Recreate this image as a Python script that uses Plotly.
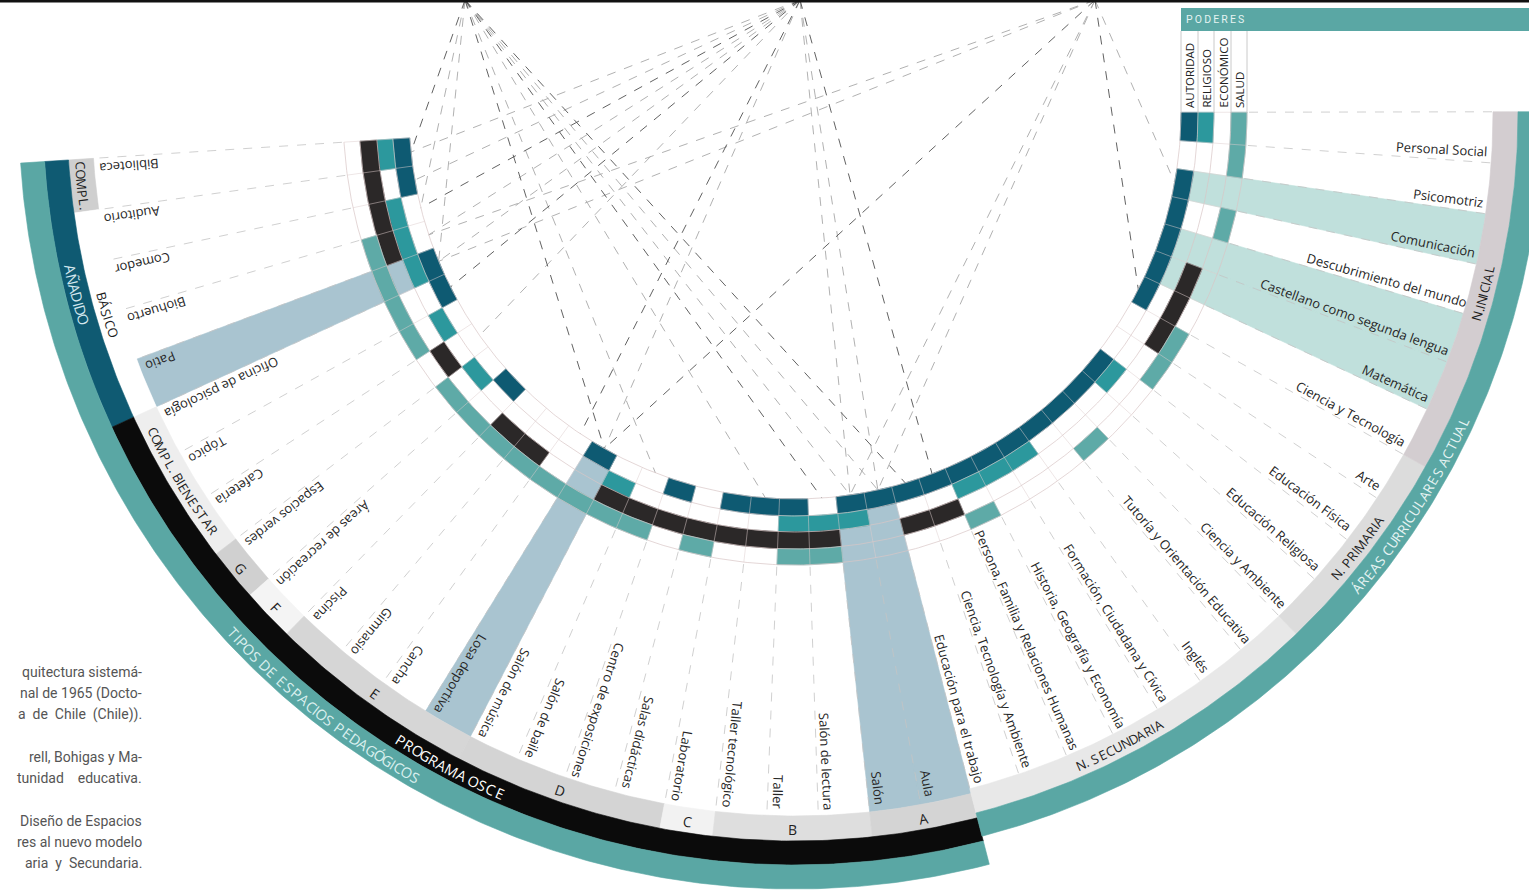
import math
import plotly.graph_objects as go

# ------------------------------------------------------------------ data
ESPACIOS = [
    "Biblioteca", "Auditorio", "Comedor", "Biohuerto", "Patio",
    "Oficina de psicología", "Tópico", "Cafetería", "Espacios verdes",
    "Áreas de recreación", "Piscina", "Gimnasio", "Cancha", "Losa deportiva",
    "Salón de música", "Salón de baile", "Centro de exposiciones",
    "Salas didácticas", "Laboratorio", "Taller tecnológico", "Taller",
    "Salón de lectura", "Salón", "Aula",
]
AREAS = [
    "Educación para el trabajo", "Ciencia, Tecnología y Ambiente",
    "Persona, Familia y Relaciones Humanas", "Historia, Geografía y Economía",
    "Formación, Ciudadana y Cívica", "Inglés", "Tutoría y Orientación Educativa",
    "Ciencia y Ambiente", "Educación Religiosa", "Educación Física", "Arte",
    "Ciencia y Tecnología", "Matemática", "Castellano como segunda lengua",
    "Descubrimiento del mundo", "Comunicación", "Psicomotriz", "Personal Social",
]
PODERES = ["AUTORIDAD", "RELIGIOSO", "ECONÓMICO", "SALUD"]

# presence of each power (1 = filled cell) for every space / every curricular area
AUTORIDAD_ESP = [1,1,0,0,1,1,0,0,0,1,0,0,0,1,0,0,1,0,1,1,1,0,1,1]
RELIGIOSO_ESP = [1,0,1,1,1,0,1,0,1,0,0,0,0,0,1,0,0,0,0,0,1,1,1,0]
ECONOMICO_ESP = [1,1,1,1,0,0,0,1,0,0,1,1,0,0,1,1,1,1,1,1,1,1,0,0]
SALUD_ESP     = [0,0,0,1,1,1,1,0,1,1,1,1,1,1,1,1,0,1,0,0,1,1,0,0]
AUTORIDAD_AREAS = [1,1,1,1,1,1,1,1,1,0,0,1,1,1,1,1,0,1]
RELIGIOSO_AREAS = [0,0,1,1,1,0,0,0,1,0,0,0,0,0,0,0,0,1]
ECONOMICO_AREAS = [1,1,0,0,0,0,0,0,0,0,1,1,1,0,0,0,0,0]
SALUD_AREAS     = [0,0,1,0,0,0,1,0,0,1,1,0,0,0,1,0,1,1]

HIGHLIGHT_ESP = ["Patio", "Losa deportiva", "Salón", "Aula"]
HIGHLIGHT_AREAS = ["Matemática", "Castellano como segunda lengua", "Comunicación"]

ESP_SUBGRUPOS = ["COMPL.", "BÁSICO", "COMPL. BIENESTAR", "G", "F", "E", "D", "C", "B", "A"]
ESP_SUBGRUPOS_N = [1, 4, 3, 1, 1, 4, 4, 1, 3, 2]
ESP_PROGRAMAS = ["AÑADIDO", "PROGRAMA OSCE"]
ESP_PROGRAMAS_N = [5, 19]
ESP_TITULO = "TIPOS DE ESPACIOS PEDAGÓGICOS"
AREAS_NIVELES = ["N. SECUNDARIA", "N. PRIMARIA", "N.INICIAL"]
AREAS_NIVELES_N = [7, 4, 7]
AREAS_TITULO = "ÁREAS CURRICULARES ACTUAL"
PODERES_TITULO = "PODERES"

# dashed links: (source hub index, item)
LINKS = [
    (0, "Biblioteca"), (0, "Comedor"), (0, "Patio"), (0, "Losa deportiva"),
    (0, "Salón de baile"), (0, "Taller tecnológico"), (0, "Salón de lectura"),
    (0, "Salón"), (0, "Aula"), (0, "Educación para el trabajo"),
    (1, "Biblioteca"), (1, "Auditorio"), (1, "Comedor"), (1, "Biohuerto"),
    (1, "Patio"), (1, "Oficina de psicología"), (1, "Cafetería"), (1, "Losa deportiva"),
    (1, "Cancha"), (1, "Salón"), (1, "Aula"), (1, "Ciencia, Tecnología y Ambiente"),
    (2, "Biohuerto"), (2, "Patio"), (2, "Losa deportiva"), (2, "Salón"), (2, "Aula"),
    (2, "Ciencia y Tecnología"), (2, "Comunicación"),
]

NOTA = [
    "quitectura sistemá-", "nal de 1965 (Docto-", "a  de  Chile  (Chile)).", "",
    "rell, Bohigas y Ma-", "tunidad    educativa.", "",
    "Diseño de Espacios", "res al nuevo modelo", "aria  y  Secundaria.",
]

# ------------------------------------------------------------------ geometry / style
W, H = 1529, 890
CX, CY = 795, 113
A0, STEP = 183.7, 4.2
LABEL_SHIFT = -1.2
ITEMS = ESPACIOS + AREAS
N_ESP = len(ESPACIOS)
A_END = A0 + STEP * len(ITEMS)
SPLIT = A0 + STEP * N_ESP
R_RING = [386, 403, 419, 436, 452]
L_BANDS = [703, 728, 752, 776]
R_BANDS = [698, 723, 747]
HUBS = [(465, 0), (800, 0), (1095, 0)]

FONT = "Open Sans"
C_TEAL = "#5aa7a4"
C_DBLUE = "#0f5a72"
C_BLACK = "#0b0b0b"
RING_COLORS = ["#0e5a72", "#2c989d", "#2b2828", "#5eaaa7"]
C_HL_L = "#a9c4d0"
C_HL_R = "#c0e0dc"
SUB_COLORS = {"COMPL.": "#cfcfcf", "BÁSICO": "#ffffff", "COMPL. BIENESTAR": "#eeeeee",
              "G": "#d0d0d0", "F": "#f4f4f4", "E": "#d6d6d6", "D": "#d4d4d4",
              "C": "#f2f2f2", "B": "#dedede", "A": "#d4d4d4"}
PROG_COLORS = {"AÑADIDO": C_DBLUE, "PROGRAMA OSCE": C_BLACK}
PROG_TEXT = {"AÑADIDO": "#d3e7ee", "PROGRAMA OSCE": "#ffffff"}
NIV_COLORS = {"N. SECUNDARIA": "#e8e8e8", "N. PRIMARIA": "#dcdcdc", "N.INICIAL": "#d3cdd0"}


def t_start(i):
    return A0 + STEP * i


def t_mid(i):
    return A0 + STEP * (i + 0.5)


def pt(t, r):
    a = math.radians(t)
    return CX + r * math.cos(a), CY - r * math.sin(a)


def wedge(t0, t1, r0, r1):
    n = max(2, int(abs(t1 - t0) / 0.4) + 2)
    ts = [t0 + (t1 - t0) * k / (n - 1) for k in range(n)]
    outer = [pt(t, r1) for t in ts]
    inner = [pt(t, r0) for t in reversed(ts)]
    ps = outer + inner + [outer[0]]
    return [p[0] for p in ps], [p[1] for p in ps]


fig = go.Figure()


def add_polys(polys, color, lw=0.6):
    xs, ys = [], []
    for px, py in polys:
        xs += px + [None]
        ys += py + [None]
    if not xs:
        return
    fig.add_trace(go.Scatter(x=xs, y=ys, mode="lines", fill="toself", fillcolor=color,
                             line=dict(width=lw, color=color), hoverinfo="skip"))


def add_lines(segs, color, width=0.8, dash=None):
    xs, ys = [], []
    for (x0, y0), (x1, y1) in segs:
        xs += [x0, x1, None]
        ys += [y0, y1, None]
    fig.add_trace(go.Scatter(x=xs, y=ys, mode="lines", hoverinfo="skip",
                             line=dict(width=width, color=color, dash=dash)))


def add_arc_lines(radii, t0, t1, color, width=0.7):
    xs, ys = [], []
    for r in radii:
        n = int((t1 - t0) / 0.4) + 2
        for k in range(n):
            t = t0 + (t1 - t0) * k / (n - 1)
            x, y = pt(t, r)
            xs.append(x)
            ys.append(y)
        xs.append(None)
        ys.append(None)
    fig.add_trace(go.Scatter(x=xs, y=ys, mode="lines", hoverinfo="skip",
                             line=dict(width=width, color=color)))


def text_w(s, fs):
    w = 0.0
    for c in s:
        if c == " ":
            w += 0.26
        elif c in ".,;:":
            w += 0.24
        elif c in "iljíIÍ|":
            w += 0.26
        elif c in "ftr":
            w += 0.34
        elif c in "mM":
            w += 0.86
        elif c in "wW":
            w += 0.8
        elif c.isupper():
            w += 0.66
        elif c in "sczvxyk":
            w += 0.48
        else:
            w += 0.56
    return w * fs


def norm_angle(a):
    a = a % 360
    if a > 180:
        a -= 360
    return a


annotations = []


def ann(x, y, text, size, color, angle=0, xanchor="center", yanchor="middle", family=FONT):
    annotations.append(dict(x=x, y=y, xref="x", yref="y", text=text, showarrow=False,
                            textangle=norm_angle(angle), xanchor=xanchor, yanchor=yanchor,
                            font=dict(family=family, size=size, color=color)))


def arc_text(s, tc, r, fs, color, spacing=0.0):
    ws = [text_w(c, fs) + spacing for c in s]
    L = sum(ws)
    t = tc - math.degrees(L / r) / 2
    cum = 0.0
    for c, w in zip(s, ws):
        tt = t + math.degrees((cum + w / 2) / r)
        cum += w
        if c == " ":
            continue
        x, y = pt(tt, r + 0.1 * fs)
        ann(x, y, c, fs, color, angle=270 - tt)


# ------------------------------------------------------------------ top frame line
fig.add_shape(type="line", x0=0, x1=W, y0=1, y1=1, line=dict(color="#111", width=3))

# ------------------------------------------------------------------ dashed links (behind rings)
link_segs_dark, link_segs_light = [], []
for k, (h, name) in enumerate(LINKS):
    i = ITEMS.index(name)
    seg = (HUBS[h], pt(t_mid(i), R_RING[0]))
    (link_segs_dark if k % 3 == 0 else link_segs_light).append(seg)
add_lines(link_segs_light, "#a8a8a8", 0.9, "dash")
add_lines(link_segs_dark, "#505050", 0.9, "dash")

# ------------------------------------------------------------------ highlight wedges
hl_l = [wedge(t_start(ESPACIOS.index(n)), t_start(ESPACIOS.index(n)) + STEP,
              R_RING[0], L_BANDS[0]) for n in HIGHLIGHT_ESP]
add_polys(hl_l, C_HL_L)
hl_r = []
for n in HIGHLIGHT_AREAS:
    i = N_ESP + AREAS.index(n)
    hl_r.append(wedge(t_start(i), t_start(i) + STEP, R_RING[0], R_BANDS[0]))
add_polys(hl_r, C_HL_R)

# ------------------------------------------------------------------ power rings
rings = [AUTORIDAD_ESP + AUTORIDAD_AREAS, RELIGIOSO_ESP + RELIGIOSO_AREAS,
         ECONOMICO_ESP + ECONOMICO_AREAS, SALUD_ESP + SALUD_AREAS]
for k, flags in enumerate(rings):
    polys = [wedge(t_start(i), t_start(i) + STEP, R_RING[k], R_RING[k + 1])
             for i, f in enumerate(flags) if f]
    add_polys(polys, RING_COLORS[k])

# ring grid
add_arc_lines(R_RING, A0, A_END, "#d8c6c6", 0.7)
add_lines([(pt(t_start(i), R_RING[0]), pt(t_start(i), R_RING[-1]))
           for i in range(len(ITEMS) + 1)], "#dccccc", 0.5)
# dashed separators in the label area
seps = []
for i in range(len(ITEMS) + 1):
    t = t_start(i)
    rout = L_BANDS[0] if i < N_ESP else R_BANDS[0]
    seps.append((pt(t, R_RING[-1] + 2), pt(t, rout)))
add_lines(seps, "#c4c4c4", 0.8, "dash")

# ------------------------------------------------------------------ left bands
start = 0
for name, n in zip(ESP_SUBGRUPOS, ESP_SUBGRUPOS_N):
    add_polys([wedge(t_start(start), t_start(start + n), L_BANDS[0], L_BANDS[1])],
              SUB_COLORS[name])
    start += n
start = 0
for name, n in zip(ESP_PROGRAMAS, ESP_PROGRAMAS_N):
    add_polys([wedge(t_start(start), t_start(start + n), L_BANDS[1], L_BANDS[2])],
              PROG_COLORS[name])
    start += n
add_polys([wedge(A0, SPLIT, L_BANDS[2], L_BANDS[3])], C_TEAL)

# ------------------------------------------------------------------ right bands
start = N_ESP
for name, n in zip(AREAS_NIVELES, AREAS_NIVELES_N):
    add_polys([wedge(t_start(start), t_start(start + n), R_BANDS[0], R_BANDS[1])],
              NIV_COLORS[name])
    start += n
add_polys([wedge(SPLIT, A_END, R_BANDS[1], R_BANDS[2])], C_TEAL)

# ------------------------------------------------------------------ PODERES header
x_cols = [CX + r for r in R_RING]
fig.add_shape(type="rect", x0=x_cols[0], x1=W, y0=8, y1=31, fillcolor=C_TEAL,
              line=dict(width=0))
ann(x_cols[0] + 3, 19.5, "\u2009".join(PODERES_TITULO), 10.5, "#e4f3f2",
    xanchor="left", family="Roboto")
for x in x_cols:
    fig.add_shape(type="line", x0=x, x1=x, y0=31, y1=CY, line=dict(color="#bdbdbd", width=0.8))
for k, p in enumerate(PODERES):
    ann((x_cols[k] + x_cols[k + 1]) / 2, CY - 3, p, 11.5, "#222222", angle=-90,
        yanchor="bottom", family="Open Sans")

# ------------------------------------------------------------------ item labels
for i, name in enumerate(ITEMS):
    t = t_mid(i) + LABEL_SHIFT
    rend = 697 if i < N_ESP else R_BANDS[0] - 5
    L = text_w(name, 13)
    x, y = pt(t, rend - L / 2)
    ann(x, y, name, 13, "#262626", angle=-t)

# ------------------------------------------------------------------ band texts
rm = (L_BANDS[0] + L_BANDS[1]) / 2
start = 0
for name, n in zip(ESP_SUBGRUPOS, ESP_SUBGRUPOS_N):
    tc = (t_start(start) + t_start(start + n)) / 2
    fs = 13 if len(name) > 1 else 14
    arc_text(name, tc, rm, fs, "#1e1e1e")
    start += n
start = 0
for name, n in zip(ESP_PROGRAMAS, ESP_PROGRAMAS_N):
    tc = (t_start(start) + t_start(start + n)) / 2
    if name == "PROGRAMA OSCE":
        tc -= 2.4
    arc_text(name, tc, (L_BANDS[1] + L_BANDS[2]) / 2, 14.5, PROG_TEXT[name])
    start += n
arc_text(ESP_TITULO, (A0 + SPLIT) / 2 - 2.6, (L_BANDS[2] + L_BANDS[3]) / 2, 14.5, "#d9efee")

start = N_ESP
for name, n in zip(AREAS_NIVELES, AREAS_NIVELES_N):
    tc = (t_start(start) + t_start(start + n)) / 2
    if name == "N. SECUNDARIA":
        tc -= 2.0
    arc_text(name, tc, (R_BANDS[0] + R_BANDS[1]) / 2, 13, "#1e1e1e")
    start += n
tc = (SPLIT + A_END) / 2 + 5.2
arc_text(AREAS_TITULO, tc, (R_BANDS[1] + R_BANDS[2]) / 2, 13.5, "#e6f4f3")

# ------------------------------------------------------------------ side note (cropped paragraph)
y = 672
for line in NOTA:
    if line:
        ann(144, y, line, 14, "#555555", xanchor="right", family="Roboto")
    y += 21 if line else 22

fig.update_layout(
    width=W, height=H, margin=dict(l=0, r=0, t=0, b=0),
    paper_bgcolor="white", plot_bgcolor="white", showlegend=False,
    xaxis=dict(range=[0, W], visible=False, fixedrange=True),
    yaxis=dict(range=[H, 0], visible=False, fixedrange=True),
    annotations=annotations,
)

fig.write_html("out.html", config={"displayModeBar": False},
               post_script="document.body.style.margin='0px';document.body.style.overflow='hidden';")
